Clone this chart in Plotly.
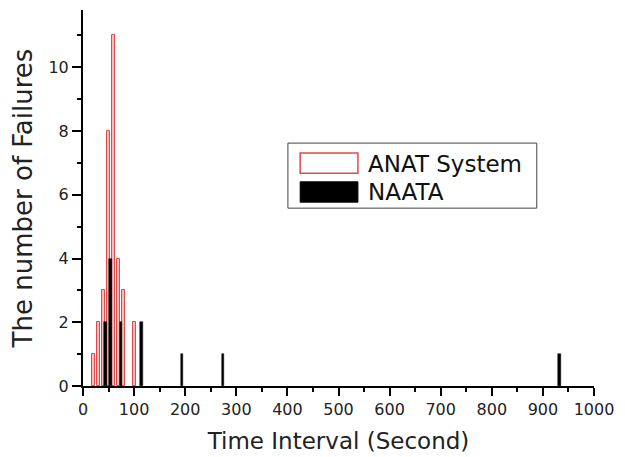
import plotly.graph_objects as go

anat_x = [20, 30, 40, 50, 60, 70, 80, 100]
anat_y = [1, 2, 3, 8, 11, 4, 3, 2]
naata_x = [44, 54, 74, 114, 194, 274, 932]
naata_y = [2, 4, 2, 2, 1, 1, 1]
legend_names = ["ANAT System", "NAATA"]
x_ticks = list(range(0, 1001, 100))
y_ticks = [0, 2, 4, 6, 8, 10]

FONT = "DejaVu Sans, Verdana, sans-serif"

fig = go.Figure()
fig.add_trace(go.Bar(x=anat_x, y=anat_y, width=5.5, name=legend_names[0],
                     marker=dict(color="rgb(248,190,190)", line=dict(color="#e04a4a", width=1)),
                     showlegend=False))
fig.add_trace(go.Bar(x=naata_x, y=naata_y, width=5, name=legend_names[1],
                     marker=dict(color="black", line=dict(color="black", width=0.5)),
                     showlegend=False))

# manual legend (box, swatches, labels)
fig.add_shape(type="rect", xref="paper", yref="paper", x0=0.401, x1=0.888, y0=0.473, y1=0.646,
              line=dict(color="#444", width=1), fillcolor="white", layer="above")
fig.add_shape(type="rect", xref="paper", yref="paper", x0=0.425, x1=0.538, y0=0.566, y1=0.620,
              line=dict(color="#e04a4a", width=1.5), fillcolor="white", layer="above")
fig.add_shape(type="rect", xref="paper", yref="paper", x0=0.425, x1=0.538, y0=0.489, y1=0.543,
              line=dict(color="black", width=1), fillcolor="black", layer="above")
fig.add_annotation(xref="paper", yref="paper", x=0.553, y=0.590, text=legend_names[0],
                   showarrow=False, xanchor="left", yanchor="middle",
                   font=dict(family=FONT, size=23, color="#111"))
fig.add_annotation(xref="paper", yref="paper", x=0.553, y=0.515, text=legend_names[1],
                   showarrow=False, xanchor="left", yanchor="middle",
                   font=dict(family=FONT, size=23, color="#111"))

fig.update_layout(
    width=625, height=457,
    margin=dict(l=75, r=39, t=2, b=79),
    plot_bgcolor="white", paper_bgcolor="white",
    barmode="overlay", bargap=0,
    font=dict(family=FONT, size=16, color="#222"),
    xaxis=dict(range=[0, 1000], tickvals=x_ticks, ticktext=[str(v) for v in x_ticks],
               automargin=False,
               showgrid=False, zeroline=False, showline=True, linecolor="black", linewidth=2,
               ticks="outside", ticklen=8, tickwidth=1.5, tickcolor="black",
               minor=dict(dtick=50, ticks="outside", ticklen=4, tickwidth=1.5, tickcolor="black"),
               title=dict(text="Time Interval (Second)", font=dict(size=23), standoff=15),
               tickfont=dict(size=16)),
    yaxis=dict(range=[0, 11.8], tickvals=y_ticks, ticktext=[str(v) for v in y_ticks],
               automargin=False,
               showgrid=False, zeroline=False, showline=True, linecolor="black", linewidth=2,
               ticks="outside", ticklen=9, tickwidth=1.5, tickcolor="black",
               minor=dict(dtick=1, ticks="outside", ticklen=4, tickwidth=1.5, tickcolor="black"),
               title=dict(text="The number of Failures", font=dict(size=26), standoff=17),
               tickfont=dict(size=16)),
)

fig.write_html("out.html")
